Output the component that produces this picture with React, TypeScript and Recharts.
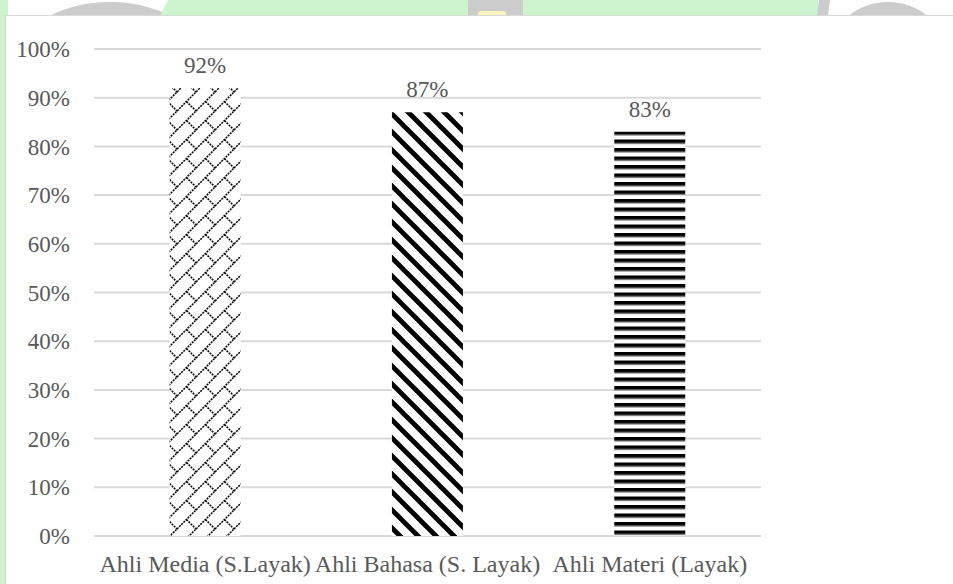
import React from 'react';
import { BarChart, Bar, XAxis, YAxis, CartesianGrid, Cell, LabelList } from 'recharts';

const categories = ['Ahli Media (S.Layak)', 'Ahli Bahasa (S. Layak)', 'Ahli Materi (Layak)'];
const scores = [0.92, 0.87, 0.83];
const yTicks = [0, 0.1, 0.2, 0.3, 0.4, 0.5, 0.6, 0.7, 0.8, 0.9, 1];

const data = categories.map((name, i) => ({ name, value: scores[i] }));

// excel-ish hatch fills, one per bar
const fills = ['url(#brick)', 'url(#wideDown)', 'url(#darkHoriz)'];

const FONT = "'Liberation Serif', 'Times New Roman', serif";
const TEXT = '#595959';
const GREEN = '#cdf5cd';
const GREY = '#cccccc';

const pct = (v: number) => `${Math.round(v * 100)}%`;

const Patterns = () => (
  <svg width={0} height={0} style={{ position: 'absolute' }}>
    <defs>
      <pattern id="brick" width={19} height={19} patternUnits="userSpaceOnUse">
        <rect width={19} height={19} fill="#fff" />
        <g stroke="#000" strokeWidth={1.5} strokeDasharray="2 1">
          <line x1={-2} y1={21} x2={21} y2={-2} />
          <line x1={-2} y1={2} x2={2} y2={-2} />
          <line x1={17} y1={21} x2={21} y2={17} />
          <line x1={9.5} y1={9.5} x2={20} y2={20} />
          <line x1={-1} y1={-1} x2={1} y2={1} />
        </g>
      </pattern>
      <pattern id="wideDown" width={18} height={18} patternUnits="userSpaceOnUse">
        <rect width={18} height={18} fill="#fff" />
        <g stroke="#000" strokeWidth={4.8}>
          <line x1={-3} y1={-3} x2={21} y2={21} />
          <line x1={-3} y1={15} x2={3} y2={21} />
          <line x1={15} y1={-3} x2={21} y2={3} />
        </g>
      </pattern>
      <pattern id="darkHoriz" width={10} height={8.5} y={115} patternUnits="userSpaceOnUse">
        <rect width={10} height={8.5} fill="#fff" />
        <rect width={10} height={3.6} fill="#000" />
        <rect y={3.6} width={10} height={1} fill="#7f7f7f" />
      </pattern>
    </defs>
  </svg>
);

// watermark bits peeking out around the chart box
const Backdrop = () => (
  <svg width={953} height={584} style={{ position: 'absolute', left: 0, top: 0 }}>
    <rect x={0} y={0} width={953} height={584} fill="#fff" />
    <rect x={0} y={0} width={8} height={584} fill={GREEN} />
    <ellipse cx={110} cy={70} rx={100} ry={68} fill={GREY} />
    <polygon points="168,0 468,0 468,16 160,16" fill={GREEN} />
    <rect x={468} y={0} width={55} height={16} fill={GREY} />
    <rect x={478} y={11} width={28} height={8} rx={3} fill="#fdf6c3" />
    <rect x={523} y={0} width={295} height={16} fill={GREEN} />
    <polygon points="819,0 830,0 828,16 817,16" fill={GREY} />
    <ellipse cx={888} cy={48} rx={55} ry={46} fill={GREY} />
  </svg>
);

export default function App() {
  return (
    <div style={{ position: 'absolute', left: 0, top: 0, width: 953, height: 584, overflow: 'hidden', fontFamily: FONT }}>
      <Backdrop />
      <Patterns />
      <div
        style={{
          position: 'absolute',
          left: 5,
          top: 15,
          width: 948,
          height: 569,
          background: '#fff',
          borderTop: '1px solid #d9d9d9',
          borderLeft: '1px solid #d9d9d9',
        }}
      >
        <BarChart
          width={947}
          height={568}
          data={data}
          margin={{ top: 33, right: 192, left: 8, bottom: 8 }}
          barCategoryGap="34%"
        >
          <CartesianGrid vertical={false} stroke="#d9d9d9" strokeWidth={2} />
          <XAxis
            dataKey="name"
            axisLine={false}
            tickLine={false}
            height={40}
            tickMargin={13}
            interval={0}
            tick={{ fill: TEXT, fontSize: 24, fontFamily: FONT }}
          />
          <YAxis
            domain={[0, 1]}
            ticks={yTicks}
            tickFormatter={pct}
            axisLine={false}
            tickLine={false}
            width={80}
            tickMargin={18}
            tick={{ fill: TEXT, fontSize: 23, fontFamily: FONT }}
          />
          <Bar dataKey="value" isAnimationActive={false}>
            {data.map((d, i) => (
              <Cell key={d.name} fill={fills[i]} />
            ))}
            <LabelList
              dataKey="value"
              position="top"
              offset={15}
              formatter={(v: any) => pct(Number(v))}
              style={{ fill: TEXT, fontSize: 23, fontFamily: FONT }}
            />
          </Bar>
        </BarChart>
      </div>
    </div>
  );
}
